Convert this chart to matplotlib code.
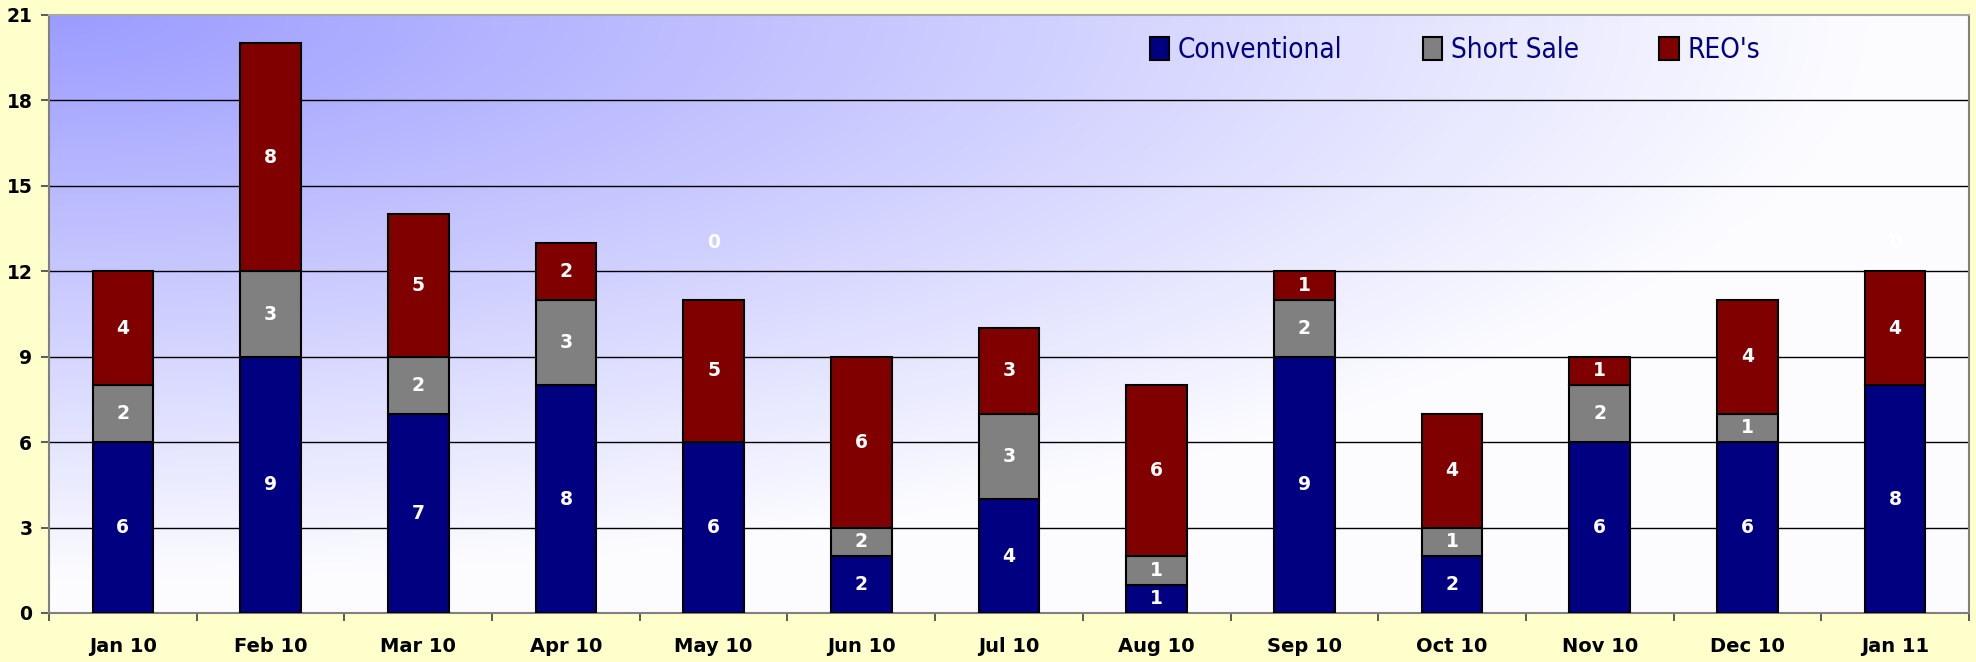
import numpy as np
import matplotlib
matplotlib.use('Agg')
from matplotlib import pyplot as plt
from matplotlib import font_manager as fm

# 月份与三类成交数量
months = ['Jan 10', 'Feb 10', 'Mar 10', 'Apr 10', 'May 10', 'Jun 10', 'Jul 10',
          'Aug 10', 'Sep 10', 'Oct 10', 'Nov 10', 'Dec 10', 'Jan 11']
conventional = [6, 9, 7, 8, 6, 2, 4, 1, 9, 2, 6, 6, 8]
short_sale = [2, 3, 2, 3, 0, 1, 3, 1, 2, 1, 2, 1, 0]
# 原图 Jun 10 的灰色段高度为 1，但标签写的是 2
short_sale_labels = ['2', '3', '2', '3', '0', '2', '3', '1', '2', '1', '2', '1', '0']
reos = [4, 8, 5, 2, 5, 6, 3, 6, 1, 4, 1, 4, 4]
y_ticks = [0, 3, 6, 9, 12, 15, 18, 21]

navy = '#000080'
gray = '#808080'
maroon = '#800000'

# 图例用窄体字，找不到就退回 DejaVu Sans
legend_prop = {'family': 'DejaVu Sans', 'size': 16}
for f in fm.fontManager.ttflist:
    if ('Narrow' in f.name or 'Condensed' in f.name or f.stretch == 'condensed') \
            and 'Mono' not in f.name and 'Serif' not in f.name:
        legend_prop = {'family': f.name, 'stretch': f.stretch, 'size': 20}
        break

fig = plt.figure(figsize=(19.76, 6.62), dpi=100)
fig.patch.set_facecolor('#FFFFCC')
ax = fig.add_axes([49 / 1976, 1 - 613 / 662, (1969 - 49) / 1976, (613 - 15) / 662])

# 背景渐变：左上角蓝紫色向外变白
gx, gy = np.meshgrid(np.linspace(0, 1, 400), np.linspace(0, 1, 200))
t = np.clip(1.05 * np.sqrt(gx ** 2 + gy ** 2), 0, 1)
c0 = np.array([0.61, 0.61, 1.0])
c1 = np.array([0.99, 0.99, 1.0])
grad = c0[None, None, :] * (1 - t[..., None]) + c1[None, None, :] * t[..., None]
ax.imshow(grad, extent=[0, 1, 0, 1], transform=ax.transAxes, aspect='auto', zorder=0)

x = np.arange(len(months))
w = 0.41
conv = np.array(conventional)
ss = np.array(short_sale)
reo = np.array(reos)

ax.bar(x, conv, w, color=navy, edgecolor='black', linewidth=1.5, zorder=3, label='Conventional')
ax.bar(x, ss, w, bottom=conv, color=gray, edgecolor='black', linewidth=1.5, zorder=3, label='Short Sale')
ax.bar(x, reo, w, bottom=conv + ss, color=maroon, edgecolor='black', linewidth=1.5, zorder=3, label="REO's")

# 数据标签（白色粗体）
lab = dict(color='white', fontsize=13.5, fontweight='bold', ha='center', va='center', zorder=4)
for i in range(len(months)):
    ax.text(x[i], conv[i] / 2, str(conv[i]), **lab)
    if ss[i] > 0:
        ax.text(x[i], conv[i] + ss[i] / 2, short_sale_labels[i], **lab)
    else:
        # Excel 把 0 标签放在柱顶上方
        ax.text(x[i], 13, short_sale_labels[i], **lab)
    ax.text(x[i], conv[i] + ss[i] + reo[i] / 2, str(reo[i]), **lab)

ax.set_xlim(-0.5, len(months) - 0.5)
ax.set_ylim(0, 21)
ax.set_yticks(y_ticks)
ax.set_yticklabels([str(v) for v in y_ticks], fontsize=13.5, fontweight='bold')
ax.set_xticks(x)
ax.set_xticklabels(months, fontsize=14, fontweight='bold')
ax.tick_params(axis='x', length=0, pad=17)
ax.set_xticks(np.arange(len(months) + 1) - 0.5, minor=True)
ax.tick_params(axis='x', which='minor', length=6, width=1.2, color='#404040')
ax.tick_params(axis='y', length=6, width=1.2, color='#404040', pad=6)

for v in y_ticks[1:-1]:
    ax.axhline(v, color='black', linewidth=1, zorder=1)

for s in ['left', 'bottom', 'right']:
    ax.spines[s].set_color('#808080')
    ax.spines[s].set_linewidth(1.5)
ax.spines['top'].set_color('#A8A8A8')
ax.spines['top'].set_linewidth(1.5)

leg = ax.legend(loc='center', bbox_to_anchor=(1455 / 1976, 1 - 50 / 662),
                bbox_transform=fig.transFigure, ncol=3, frameon=False,
                prop=legend_prop,
                handlelength=0.7, handleheight=0.9, handletextpad=0.3, columnspacing=2.9)
for txt in leg.get_texts():
    txt.set_color(navy)

fig.savefig('out.png', dpi=100, facecolor=fig.get_facecolor())
